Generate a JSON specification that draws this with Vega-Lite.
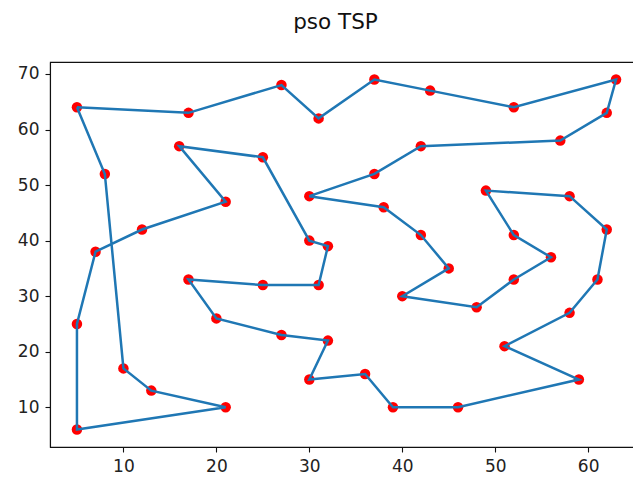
{
  "$schema": "https://vega.github.io/schema/vega-lite/v6.json",
  "autosize": {"type": "none"},
  "padding": {"left": 50, "top": 62, "right": 0, "bottom": 30},
  "width": 593,
  "height": 385,
  "background": "white",
  "title": {"text": "pso TSP", "font": "DejaVu Sans", "fontSize": 21.5, "fontWeight": "normal", "color": "#111", "anchor": "middle", "offset": 29, "dx": -11},
  "config": {
    "view": {"stroke": "#111", "strokeWidth": 1.1},
    "axis": {"grid": false, "domainColor": "#111", "domainWidth": 1.1, "tickColor": "#111", "tickSize": 5, "tickWidth": 1.1, "labelFont": "DejaVu Sans", "labelFontSize": 17, "labelColor": "#222", "labelPadding": 6, "title": null}
  },
  "data": {"values": [
    {"order": 0, "x": 5, "y": 64},
    {"order": 1, "x": 17, "y": 63},
    {"order": 2, "x": 27, "y": 68},
    {"order": 3, "x": 31, "y": 62},
    {"order": 4, "x": 37, "y": 69},
    {"order": 5, "x": 43, "y": 67},
    {"order": 6, "x": 52, "y": 64},
    {"order": 7, "x": 63, "y": 69},
    {"order": 8, "x": 62, "y": 63},
    {"order": 9, "x": 57, "y": 58},
    {"order": 10, "x": 42, "y": 57},
    {"order": 11, "x": 37, "y": 52},
    {"order": 12, "x": 30, "y": 48},
    {"order": 13, "x": 38, "y": 46},
    {"order": 14, "x": 42, "y": 41},
    {"order": 15, "x": 45, "y": 35},
    {"order": 16, "x": 40, "y": 30},
    {"order": 17, "x": 48, "y": 28},
    {"order": 18, "x": 52, "y": 33},
    {"order": 19, "x": 56, "y": 37},
    {"order": 20, "x": 52, "y": 41},
    {"order": 21, "x": 49, "y": 49},
    {"order": 22, "x": 58, "y": 48},
    {"order": 23, "x": 62, "y": 42},
    {"order": 24, "x": 61, "y": 33},
    {"order": 25, "x": 58, "y": 27},
    {"order": 26, "x": 51, "y": 21},
    {"order": 27, "x": 59, "y": 15},
    {"order": 28, "x": 46, "y": 10},
    {"order": 29, "x": 39, "y": 10},
    {"order": 30, "x": 36, "y": 16},
    {"order": 31, "x": 30, "y": 15},
    {"order": 32, "x": 32, "y": 22},
    {"order": 33, "x": 27, "y": 23},
    {"order": 34, "x": 20, "y": 26},
    {"order": 35, "x": 17, "y": 33},
    {"order": 36, "x": 25, "y": 32},
    {"order": 37, "x": 31, "y": 32},
    {"order": 38, "x": 32, "y": 39},
    {"order": 39, "x": 30, "y": 40},
    {"order": 40, "x": 25, "y": 55},
    {"order": 41, "x": 16, "y": 57},
    {"order": 42, "x": 21, "y": 47},
    {"order": 43, "x": 12, "y": 42},
    {"order": 44, "x": 7, "y": 38},
    {"order": 45, "x": 5, "y": 25},
    {"order": 46, "x": 5, "y": 6},
    {"order": 47, "x": 21, "y": 10},
    {"order": 48, "x": 13, "y": 13},
    {"order": 49, "x": 10, "y": 17},
    {"order": 50, "x": 8, "y": 52},
    {"order": 51, "x": 5, "y": 64}
  ]},
  "encoding": {
    "x": {"field": "x", "type": "quantitative", "scale": {"domain": [2.1, 65.9], "nice": false, "zero": false}, "axis": {"values": [10, 20, 30, 40, 50, 60]}},
    "y": {"field": "y", "type": "quantitative", "scale": {"domain": [2.85, 72.15], "nice": false, "zero": false}, "axis": {"values": [10, 20, 30, 40, 50, 60, 70]}}
  },
  "layer": [
    {"transform": [{"filter": "datum.order < 51"}], "mark": {"type": "circle", "color": "#ff0000", "opacity": 1, "size": 110}},
    {"mark": {"type": "line", "color": "#1f77b4", "strokeWidth": 2.5}, "encoding": {"order": {"field": "order", "type": "quantitative"}}}
  ]
}
